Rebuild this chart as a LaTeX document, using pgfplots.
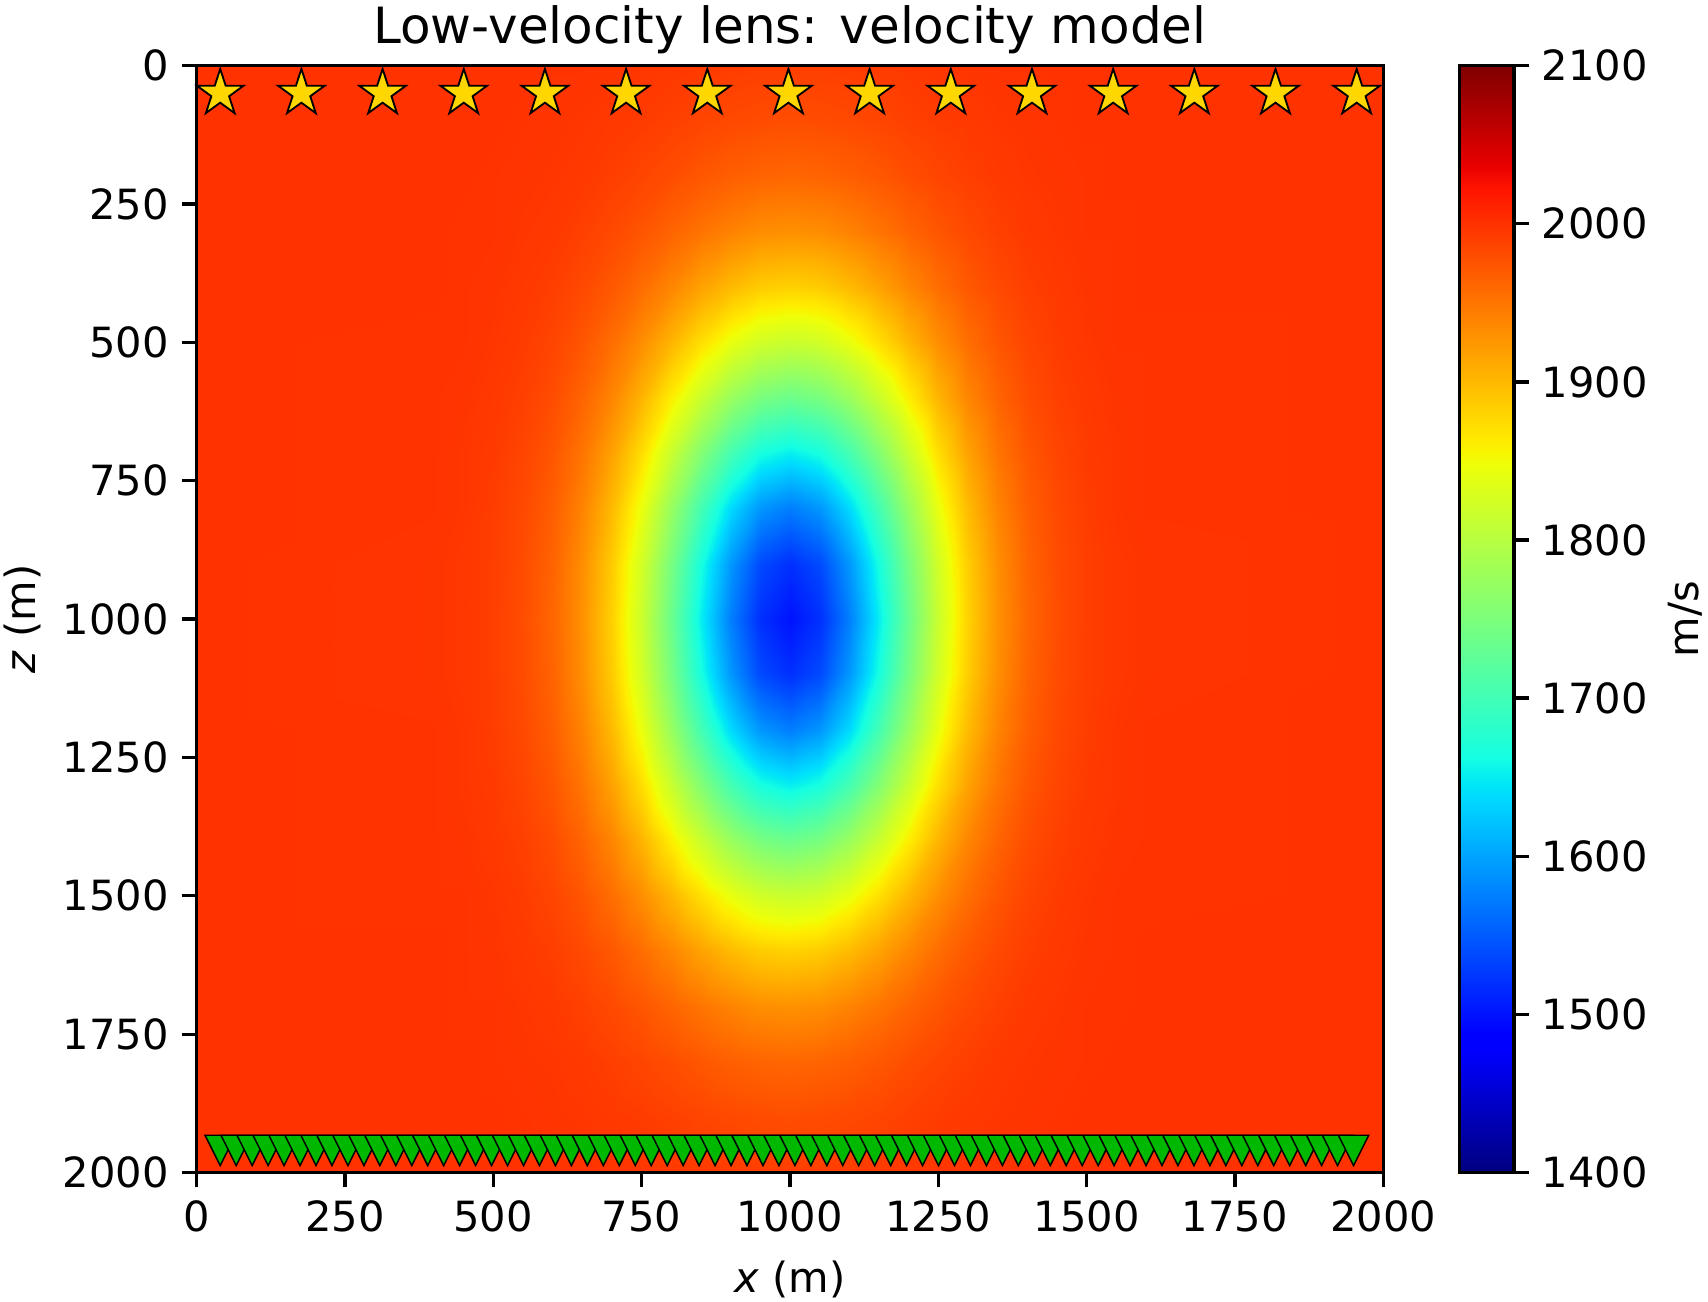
\documentclass[border=0pt]{standalone}
\usepackage{fontspec}
\setmainfont{DejaVu Sans}
\usepackage{pgfplots}
\pgfplotsset{compat=1.18}

\definecolor{srcgold}{RGB}{255,215,0}
\definecolor{recgreen}{RGB}{0,184,0}

% filled five-point star (matplotlib '*')
\pgfdeclareplotmark{srcstar}{%
  \pgfpathmoveto{\pgfpointpolar{90}{\pgfplotmarksize}}%
  \pgfpathlineto{\pgfpointpolar{126}{0.382\pgfplotmarksize}}%
  \pgfpathlineto{\pgfpointpolar{162}{\pgfplotmarksize}}%
  \pgfpathlineto{\pgfpointpolar{198}{0.382\pgfplotmarksize}}%
  \pgfpathlineto{\pgfpointpolar{234}{\pgfplotmarksize}}%
  \pgfpathlineto{\pgfpointpolar{270}{0.382\pgfplotmarksize}}%
  \pgfpathlineto{\pgfpointpolar{306}{\pgfplotmarksize}}%
  \pgfpathlineto{\pgfpointpolar{342}{0.382\pgfplotmarksize}}%
  \pgfpathlineto{\pgfpointpolar{18}{\pgfplotmarksize}}%
  \pgfpathlineto{\pgfpointpolar{54}{0.382\pgfplotmarksize}}%
  \pgfpathclose
  \pgfusepathqfillstroke}
% downward triangle (matplotlib 'v')
\pgfdeclareplotmark{rectri}{%
  \pgfpathmoveto{\pgfpoint{0pt}{-\pgfplotmarksize}}%
  \pgfpathlineto{\pgfpoint{-\pgfplotmarksize}{\pgfplotmarksize}}%
  \pgfpathlineto{\pgfpoint{\pgfplotmarksize}{\pgfplotmarksize}}%
  \pgfpathclose
  \pgfusepathqfillstroke}

\pgfplotsset{
  colormap={mpljet}{rgb(0pt)=(0,0,0.5); rgb(110pt)=(0,0,1); rgb(125pt)=(0,0,1);
    rgb(340pt)=(0,0.86,1); rgb(350pt)=(0,0.9,0.968); rgb(375pt)=(0.081,1,0.887);
    rgb(640pt)=(0.935,1,0.032); rgb(650pt)=(0.968,0.963,0); rgb(660pt)=(1,0.926,0);
    rgb(890pt)=(1,0.074,0); rgb(910pt)=(0.909,0,0); rgb(1000pt)=(0.5,0,0)},
}

\begin{document}
\begin{tikzpicture}
\begin{axis}[
    scale only axis, width=320.8pt, height=299.2pt,
    xmin=0, xmax=2000, ymin=0, ymax=2000, y dir=reverse,
    xtick={0,250,...,2000}, ytick={0,250,...,2000},
    xtick pos=bottom, ytick pos=left,
    tick align=outside, major tick length=4pt,
    tick style={black, line width=0.9pt},
    axis line style={line width=0.9pt},
    tick label style={font=\fontsize{11.25}{13.5}\selectfont},
    label style={font=\fontsize{11.25}{13.5}\selectfont, inner sep=1pt},
    xlabel style={outer sep=3.6pt},
    ylabel style={outer sep=1.6pt},
    title style={font=\fontsize{13.5}{16}\selectfont, anchor=base, inner sep=1.5pt},
    title={Low-velocity lens: velocity model},
    xlabel={\textit{x} (m)}, ylabel={\textit{z} (m)},
    /pgf/number format/assume math mode=true, /pgf/number format/1000 sep={},
    colormap name=mpljet, point meta min=1400, point meta max=2100,
    colorbar,
    colorbar style={
        width=14.8pt, at={(parent axis.north east)}, anchor=north west, xshift=12pt,
        ytick={1400,1500,...,2100}, ytick pos=right, yticklabel pos=right,
        tick align=outside, major tick length=4pt,
        tick style={black, line width=0.9pt}, axis line style={line width=0.9pt},
        tick label style={font=\fontsize{11.25}{13.5}\selectfont},
        /pgf/number format/assume math mode=true, /pgf/number format/1000 sep={},
        ylabel={m/s},
        ylabel style={font=\fontsize{11.25}{13.5}\selectfont, inner sep=1.5pt, outer sep=0.7pt},
    },
    axis on top,
]
% velocity model, v(x,z) in m/s
\addplot[surf, shader=interp, mesh/ordering=x varies, mesh/cols=27, mesh/rows=21, point meta=explicit] coordinates {
(0,0)[2000] (400,0)[2000] (450,0)[2000] (500,0)[2000] (550,0)[2000] (600,0)[1999] (650,0)[1999] (700,0)[1998] (750,0)[1997] (800,0)[1995] (850,0)[1994] (900,0)[1992] (950,0)[1991] (1000,0)[1991] (1050,0)[1991] (1100,0)[1992] (1150,0)[1994] (1200,0)[1995] (1250,0)[1997] (1300,0)[1998] (1350,0)[1999] (1400,0)[1999] (1450,0)[2000] (1500,0)[2000] (1550,0)[2000] (1600,0)[2000] (2000,0)[2000]
(0,100)[2000] (400,100)[2000] (450,100)[2000] (500,100)[2000] (550,100)[1999] (600,100)[1998] (650,100)[1997] (700,100)[1995] (750,100)[1993] (800,100)[1990] (850,100)[1986] (900,100)[1983] (950,100)[1981] (1000,100)[1980] (1050,100)[1981] (1100,100)[1983] (1150,100)[1986] (1200,100)[1990] (1250,100)[1993] (1300,100)[1995] (1350,100)[1997] (1400,100)[1998] (1450,100)[1999] (1500,100)[2000] (1550,100)[2000] (1600,100)[2000] (2000,100)[2000]
(0,200)[2000] (400,200)[2000] (450,200)[2000] (500,200)[1999] (550,200)[1998] (600,200)[1997] (650,200)[1995] (700,200)[1991] (750,200)[1986] (800,200)[1980] (850,200)[1973] (900,200)[1967] (950,200)[1963] (1000,200)[1961] (1050,200)[1963] (1100,200)[1967] (1150,200)[1973] (1200,200)[1980] (1250,200)[1986] (1300,200)[1991] (1350,200)[1995] (1400,200)[1997] (1450,200)[1998] (1500,200)[1999] (1550,200)[2000] (1600,200)[2000] (2000,200)[2000]
(0,300)[2000] (400,300)[2000] (450,300)[1999] (500,300)[1999] (550,300)[1997] (600,300)[1995] (650,300)[1990] (700,300)[1983] (750,300)[1974] (800,300)[1963] (850,300)[1951] (900,300)[1940] (950,300)[1932] (1000,300)[1930] (1050,300)[1932] (1100,300)[1940] (1150,300)[1951] (1200,300)[1963] (1250,300)[1974] (1300,300)[1983] (1350,300)[1990] (1400,300)[1995] (1450,300)[1997] (1500,300)[1999] (1550,300)[1999] (1600,300)[2000] (2000,300)[2000]
(0,400)[2000] (400,400)[2000] (450,400)[1999] (500,400)[1998] (550,400)[1995] (600,400)[1991] (650,400)[1983] (700,400)[1972] (750,400)[1956] (800,400)[1938] (850,400)[1917] (900,400)[1899] (950,400)[1886] (1000,400)[1882] (1050,400)[1886] (1100,400)[1899] (1150,400)[1917] (1200,400)[1938] (1250,400)[1956] (1300,400)[1972] (1350,400)[1983] (1400,400)[1991] (1450,400)[1995] (1500,400)[1998] (1550,400)[1999] (1600,400)[2000] (2000,400)[2000]
(0,500)[2000] (400,500)[1999] (450,500)[1999] (500,500)[1997] (550,500)[1993] (600,500)[1986] (650,500)[1974] (700,500)[1956] (750,500)[1932] (800,500)[1903] (850,500)[1872] (900,500)[1843] (950,500)[1823] (1000,500)[1816] (1050,500)[1823] (1100,500)[1843] (1150,500)[1872] (1200,500)[1903] (1250,500)[1932] (1300,500)[1956] (1350,500)[1974] (1400,500)[1986] (1450,500)[1993] (1500,500)[1997] (1550,500)[1999] (1600,500)[1999] (2000,500)[2000]
(0,600)[2000] (400,600)[1999] (450,600)[1998] (500,600)[1995] (550,600)[1990] (600,600)[1980] (650,600)[1963] (700,600)[1938] (750,600)[1903] (800,600)[1861] (850,600)[1816] (900,600)[1775] (950,600)[1747] (1000,600)[1736] (1050,600)[1747] (1100,600)[1775] (1150,600)[1816] (1200,600)[1861] (1250,600)[1903] (1300,600)[1938] (1350,600)[1963] (1400,600)[1980] (1450,600)[1990] (1500,600)[1995] (1550,600)[1998] (1600,600)[1999] (2000,600)[2000]
(0,700)[2000] (400,700)[1999] (450,700)[1997] (500,700)[1994] (550,700)[1986] (600,700)[1973] (650,700)[1951] (700,700)[1917] (750,700)[1872] (800,700)[1816] (850,700)[1757] (900,700)[1703] (950,700)[1665] (1000,700)[1651] (1050,700)[1665] (1100,700)[1703] (1150,700)[1757] (1200,700)[1816] (1250,700)[1872] (1300,700)[1917] (1350,700)[1951] (1400,700)[1973] (1450,700)[1986] (1500,700)[1994] (1550,700)[1997] (1600,700)[1999] (2000,700)[2000]
(0,800)[2000] (400,800)[1999] (450,800)[1997] (500,800)[1992] (550,800)[1983] (600,800)[1967] (650,800)[1940] (700,800)[1899] (750,800)[1843] (800,800)[1775] (850,800)[1703] (900,800)[1637] (950,800)[1591] (1000,800)[1574] (1050,800)[1591] (1100,800)[1637] (1150,800)[1703] (1200,800)[1775] (1250,800)[1843] (1300,800)[1899] (1350,800)[1940] (1400,800)[1967] (1450,800)[1983] (1500,800)[1992] (1550,800)[1997] (1600,800)[1999] (2000,800)[2000]
(0,900)[2000] (400,900)[1998] (450,900)[1996] (500,900)[1991] (550,900)[1981] (600,900)[1963] (650,900)[1932] (700,900)[1886] (750,900)[1823] (800,900)[1747] (850,900)[1665] (900,900)[1591] (950,900)[1538] (1000,900)[1520] (1050,900)[1538] (1100,900)[1591] (1150,900)[1665] (1200,900)[1747] (1250,900)[1823] (1300,900)[1886] (1350,900)[1932] (1400,900)[1963] (1450,900)[1981] (1500,900)[1991] (1550,900)[1996] (1600,900)[1998] (2000,900)[2000]
(0,1000)[2000] (400,1000)[1998] (450,1000)[1996] (500,1000)[1991] (550,1000)[1980] (600,1000)[1961] (650,1000)[1930] (700,1000)[1882] (750,1000)[1816] (800,1000)[1736] (850,1000)[1651] (900,1000)[1574] (950,1000)[1520] (1000,1000)[1500] (1050,1000)[1520] (1100,1000)[1574] (1150,1000)[1651] (1200,1000)[1736] (1250,1000)[1816] (1300,1000)[1882] (1350,1000)[1930] (1400,1000)[1961] (1450,1000)[1980] (1500,1000)[1991] (1550,1000)[1996] (1600,1000)[1998] (2000,1000)[2000]
(0,1100)[2000] (400,1100)[1998] (450,1100)[1996] (500,1100)[1991] (550,1100)[1981] (600,1100)[1963] (650,1100)[1932] (700,1100)[1886] (750,1100)[1823] (800,1100)[1747] (850,1100)[1665] (900,1100)[1591] (950,1100)[1538] (1000,1100)[1520] (1050,1100)[1538] (1100,1100)[1591] (1150,1100)[1665] (1200,1100)[1747] (1250,1100)[1823] (1300,1100)[1886] (1350,1100)[1932] (1400,1100)[1963] (1450,1100)[1981] (1500,1100)[1991] (1550,1100)[1996] (1600,1100)[1998] (2000,1100)[2000]
(0,1200)[2000] (400,1200)[1999] (450,1200)[1997] (500,1200)[1992] (550,1200)[1983] (600,1200)[1967] (650,1200)[1940] (700,1200)[1899] (750,1200)[1843] (800,1200)[1775] (850,1200)[1703] (900,1200)[1637] (950,1200)[1591] (1000,1200)[1574] (1050,1200)[1591] (1100,1200)[1637] (1150,1200)[1703] (1200,1200)[1775] (1250,1200)[1843] (1300,1200)[1899] (1350,1200)[1940] (1400,1200)[1967] (1450,1200)[1983] (1500,1200)[1992] (1550,1200)[1997] (1600,1200)[1999] (2000,1200)[2000]
(0,1300)[2000] (400,1300)[1999] (450,1300)[1997] (500,1300)[1994] (550,1300)[1986] (600,1300)[1973] (650,1300)[1951] (700,1300)[1917] (750,1300)[1872] (800,1300)[1816] (850,1300)[1757] (900,1300)[1703] (950,1300)[1665] (1000,1300)[1651] (1050,1300)[1665] (1100,1300)[1703] (1150,1300)[1757] (1200,1300)[1816] (1250,1300)[1872] (1300,1300)[1917] (1350,1300)[1951] (1400,1300)[1973] (1450,1300)[1986] (1500,1300)[1994] (1550,1300)[1997] (1600,1300)[1999] (2000,1300)[2000]
(0,1400)[2000] (400,1400)[1999] (450,1400)[1998] (500,1400)[1995] (550,1400)[1990] (600,1400)[1980] (650,1400)[1963] (700,1400)[1938] (750,1400)[1903] (800,1400)[1861] (850,1400)[1816] (900,1400)[1775] (950,1400)[1747] (1000,1400)[1736] (1050,1400)[1747] (1100,1400)[1775] (1150,1400)[1816] (1200,1400)[1861] (1250,1400)[1903] (1300,1400)[1938] (1350,1400)[1963] (1400,1400)[1980] (1450,1400)[1990] (1500,1400)[1995] (1550,1400)[1998] (1600,1400)[1999] (2000,1400)[2000]
(0,1500)[2000] (400,1500)[1999] (450,1500)[1999] (500,1500)[1997] (550,1500)[1993] (600,1500)[1986] (650,1500)[1974] (700,1500)[1956] (750,1500)[1932] (800,1500)[1903] (850,1500)[1872] (900,1500)[1843] (950,1500)[1823] (1000,1500)[1816] (1050,1500)[1823] (1100,1500)[1843] (1150,1500)[1872] (1200,1500)[1903] (1250,1500)[1932] (1300,1500)[1956] (1350,1500)[1974] (1400,1500)[1986] (1450,1500)[1993] (1500,1500)[1997] (1550,1500)[1999] (1600,1500)[1999] (2000,1500)[2000]
(0,1600)[2000] (400,1600)[2000] (450,1600)[1999] (500,1600)[1998] (550,1600)[1995] (600,1600)[1991] (650,1600)[1983] (700,1600)[1972] (750,1600)[1956] (800,1600)[1938] (850,1600)[1917] (900,1600)[1899] (950,1600)[1886] (1000,1600)[1882] (1050,1600)[1886] (1100,1600)[1899] (1150,1600)[1917] (1200,1600)[1938] (1250,1600)[1956] (1300,1600)[1972] (1350,1600)[1983] (1400,1600)[1991] (1450,1600)[1995] (1500,1600)[1998] (1550,1600)[1999] (1600,1600)[2000] (2000,1600)[2000]
(0,1700)[2000] (400,1700)[2000] (450,1700)[1999] (500,1700)[1999] (550,1700)[1997] (600,1700)[1995] (650,1700)[1990] (700,1700)[1983] (750,1700)[1974] (800,1700)[1963] (850,1700)[1951] (900,1700)[1940] (950,1700)[1932] (1000,1700)[1930] (1050,1700)[1932] (1100,1700)[1940] (1150,1700)[1951] (1200,1700)[1963] (1250,1700)[1974] (1300,1700)[1983] (1350,1700)[1990] (1400,1700)[1995] (1450,1700)[1997] (1500,1700)[1999] (1550,1700)[1999] (1600,1700)[2000] (2000,1700)[2000]
(0,1800)[2000] (400,1800)[2000] (450,1800)[2000] (500,1800)[1999] (550,1800)[1998] (600,1800)[1997] (650,1800)[1995] (700,1800)[1991] (750,1800)[1986] (800,1800)[1980] (850,1800)[1973] (900,1800)[1967] (950,1800)[1963] (1000,1800)[1961] (1050,1800)[1963] (1100,1800)[1967] (1150,1800)[1973] (1200,1800)[1980] (1250,1800)[1986] (1300,1800)[1991] (1350,1800)[1995] (1400,1800)[1997] (1450,1800)[1998] (1500,1800)[1999] (1550,1800)[2000] (1600,1800)[2000] (2000,1800)[2000]
(0,1900)[2000] (400,1900)[2000] (450,1900)[2000] (500,1900)[2000] (550,1900)[1999] (600,1900)[1998] (650,1900)[1997] (700,1900)[1995] (750,1900)[1993] (800,1900)[1990] (850,1900)[1986] (900,1900)[1983] (950,1900)[1981] (1000,1900)[1980] (1050,1900)[1981] (1100,1900)[1983] (1150,1900)[1986] (1200,1900)[1990] (1250,1900)[1993] (1300,1900)[1995] (1350,1900)[1997] (1400,1900)[1998] (1450,1900)[1999] (1500,1900)[2000] (1550,1900)[2000] (1600,1900)[2000] (2000,1900)[2000]
(0,2000)[2000] (400,2000)[2000] (450,2000)[2000] (500,2000)[2000] (550,2000)[2000] (600,2000)[1999] (650,2000)[1999] (700,2000)[1998] (750,2000)[1997] (800,2000)[1995] (850,2000)[1994] (900,2000)[1992] (950,2000)[1991] (1000,2000)[1991] (1050,2000)[1991] (1100,2000)[1992] (1150,2000)[1994] (1200,2000)[1995] (1250,2000)[1997] (1300,2000)[1998] (1350,2000)[1999] (1400,2000)[1999] (1450,2000)[2000] (1500,2000)[2000] (1550,2000)[2000] (1600,2000)[2000] (2000,2000)[2000]
};
% sources
\addplot[only marks, mark=srcstar, mark size=6.6pt,
    mark options={fill=srcgold, draw=black, line width=0.5pt}] coordinates {
(40,50) (176.8,50) (313.6,50) (450.4,50) (587.2,50) (724,50) (860.8,50) (997.6,50)
(1134.4,50) (1271.2,50) (1408,50) (1544.8,50) (1681.6,50) (1818.4,50) (1955.2,50)};
% receivers
\addplot[only marks, mark=rectri, mark size=4.1pt,
    mark options={fill=recgreen, draw=black, line width=0.4pt}] coordinates {
(40,1960) (66.9,1960) (93.8,1960) (120.7,1960) (147.6,1960) (174.5,1960) (201.4,1960) (228.3,1960)
(255.2,1960) (282.1,1960) (309,1960) (335.9,1960) (362.8,1960) (389.7,1960) (416.6,1960) (443.5,1960)
(470.4,1960) (497.3,1960) (524.2,1960) (551.1,1960) (578,1960) (604.9,1960) (631.8,1960) (658.7,1960)
(685.6,1960) (712.5,1960) (739.4,1960) (766.3,1960) (793.2,1960) (820.1,1960) (847,1960) (873.9,1960)
(900.8,1960) (927.7,1960) (954.6,1960) (981.5,1960) (1008.4,1960) (1035.3,1960) (1062.2,1960) (1089.1,1960)
(1116,1960) (1142.9,1960) (1169.8,1960) (1196.7,1960) (1223.6,1960) (1250.5,1960) (1277.4,1960) (1304.3,1960)
(1331.2,1960) (1358.1,1960) (1385,1960) (1411.9,1960) (1438.8,1960) (1465.7,1960) (1492.6,1960) (1519.5,1960)
(1546.4,1960) (1573.3,1960) (1600.2,1960) (1627.1,1960) (1654,1960) (1680.9,1960) (1707.8,1960) (1734.7,1960)
(1761.6,1960) (1788.5,1960) (1815.4,1960) (1842.3,1960) (1869.2,1960) (1896.1,1960) (1923,1960) (1949.9,1960)};
\end{axis}
\end{tikzpicture}
\end{document}
